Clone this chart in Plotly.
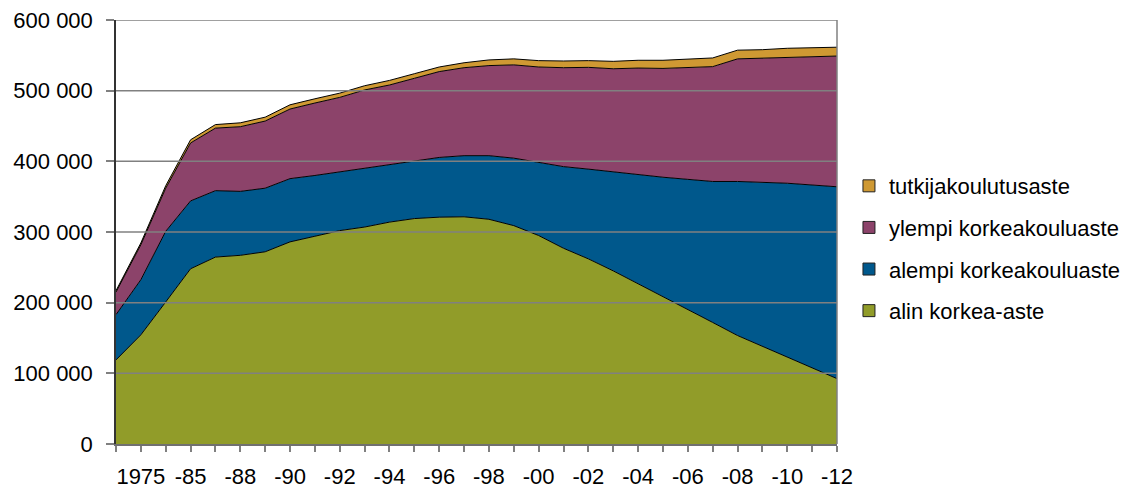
import plotly.graph_objects as go

years = ["1970", "1975", "1980", "1985"] + [str(y) for y in range(1987, 2013)]
xtick_labels = ["", "1975", "", "-85", "", "-88", "", "-90", "", "-92", "", "-94", "", "-96", "",
                "-98", "", "-00", "", "-02", "", "-04", "", "-06", "", "-08", "", "-10", "", "-12"]
ytick_values = [0, 100000, 200000, 300000, 400000, 500000, 600000]

alin = [119000, 154500, 201000, 248000, 264500, 267000, 272000, 286000, 294000, 302000,
        307000, 314000, 319000, 321000, 321500, 318000, 309000, 295000, 277000, 262000,
        245000, 227000, 208500, 190000, 172000, 153500, 138000, 123000, 107000, 92500]
alempi = [64000, 78000, 100000, 96000, 94000, 90500, 90000, 89500, 86000, 83000,
          84000, 81000, 82000, 84500, 86500, 90000, 95500, 103000, 115500, 127000,
          140000, 155000, 169000, 184500, 199500, 218000, 232500, 246000, 259500, 271500]
ylempi = [32000, 49500, 61000, 82000, 88500, 91500, 95000, 98500, 102500, 105500,
          110000, 113000, 116500, 121500, 124500, 127500, 132000, 135500, 140000, 144000,
          146000, 150000, 154000, 158500, 162500, 173500, 175500, 179000, 181500, 185000]
tutkija = [2000, 2500, 3500, 4500, 5000, 5500, 5500, 6000, 6000, 6000,
           6000, 6500, 6500, 6500, 7000, 8000, 8500, 9000, 9500, 9500,
           10500, 11000, 11500, 12000, 12300, 12300, 12000, 12000, 12500, 12500]

series = [
    ("alin korkea-aste", alin, "#919c29"),
    ("alempi korkeakouluaste", alempi, "#00588c"),
    ("ylempi korkeakouluaste", ylempi, "#8c436a"),
    ("tutkijakoulutusaste", tutkija, "#cf9933"),
]

FONT = "Liberation Sans, Arial, Helvetica, sans-serif"
FS = 22

fig = go.Figure()
for name, vals, col in series:
    fig.add_trace(go.Scatter(
        x=years, y=vals, name=name, stackgroup="one", mode="lines",
        line=dict(color="black", width=1), fillcolor=col, showlegend=False,
        hoverinfo="x+y+name"))

# legend entries (top to bottom)
for i, (name, vals, col) in enumerate(reversed(series)):
    fig.add_trace(go.Scatter(
        x=[None], y=[None], name=name, mode="markers",
        marker=dict(symbol="square", size=12, color=col, line=dict(color="#222", width=1)),
        legendgroup=f"g{i}", showlegend=True))

# gridlines drawn above the areas, as in the reference
grid_shapes = [dict(type="line", xref="paper", yref="y", x0=0, x1=1, y0=v, y1=v,
                    line=dict(color="#808080", width=1.5), layer="above")
               for v in ytick_values[1:]]
grid_shapes.append(dict(type="line", xref="paper", yref="paper", x0=1, x1=1, y0=0, y1=1,
                        line=dict(color="#808080", width=1.5), layer="above"))

fig.update_layout(
    width=1133, height=488,
    margin=dict(l=116, r=296, t=20, b=44, autoexpand=False),
    paper_bgcolor="white", plot_bgcolor="white",
    separators=", ",
    font=dict(family=FONT, size=FS, color="black"),
    showlegend=True,
    legend=dict(x=1.0166, xanchor="left", y=0.461, yanchor="middle",
                font=dict(family=FONT, size=FS, color="black"),
                tracegroupgap=10, traceorder="grouped",
                bgcolor="rgba(0,0,0,0)", itemclick=False),
    xaxis=dict(type="category", categoryorder="array", categoryarray=years,
               range=[0, len(years) - 1],
               tickmode="array", tickvals=years, ticktext=xtick_labels,
               ticks="outside", ticklen=6, tickcolor="#808080", tickwidth=1.5,
               showline=True, linecolor="#707070", linewidth=1.5,
               showgrid=False, zeroline=False, tickangle=0, ticklabelstandoff=6,
               automargin=False),
    yaxis=dict(range=[0, 600000], tickmode="array", tickvals=ytick_values, tickformat=",d",
               ticks="outside", ticklen=8, tickcolor="#808080", tickwidth=1.5,
               showline=True, linecolor="#333333", linewidth=1.5,
               showgrid=False, zeroline=False, ticklabelstandoff=9, automargin=False),
    shapes=grid_shapes,
)

fig.write_html("out.html", config={"displayModeBar": False},
               post_script="document.body.style.margin='0';")
